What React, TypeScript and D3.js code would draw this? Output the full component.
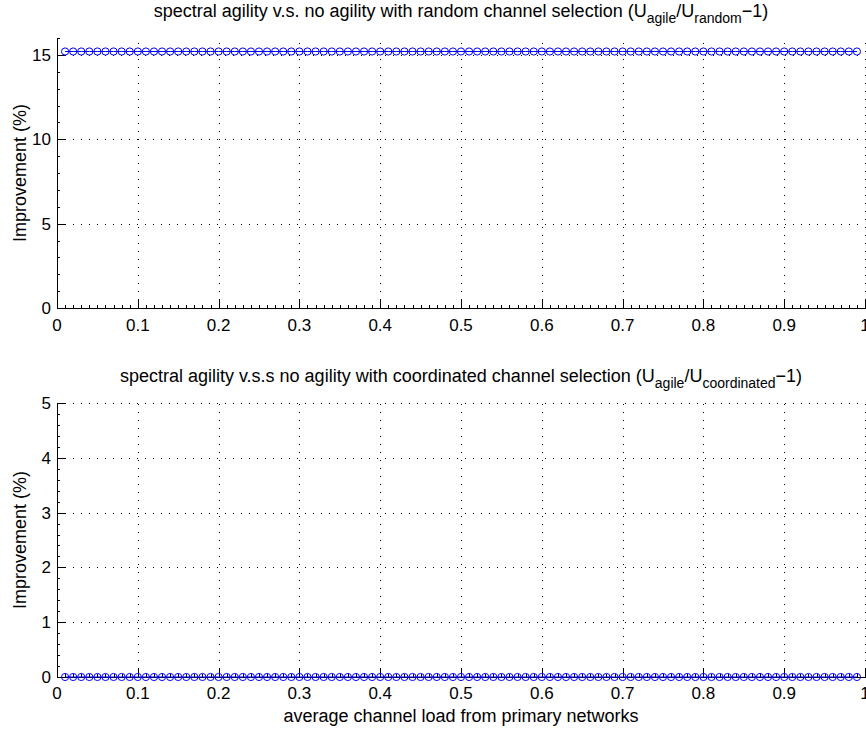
import React from "react";
import * as d3 from "d3";

// channel load sample points (x)
const loads = [
  0.01, 0.02, 0.03, 0.04, 0.05, 0.06, 0.07, 0.08, 0.09, 0.1,
  0.11, 0.12, 0.13, 0.14, 0.15, 0.16, 0.17, 0.18, 0.19, 0.2,
  0.21, 0.22, 0.23, 0.24, 0.25, 0.26, 0.27, 0.28, 0.29, 0.3,
  0.31, 0.32, 0.33, 0.34, 0.35, 0.36, 0.37, 0.38, 0.39, 0.4,
  0.41, 0.42, 0.43, 0.44, 0.45, 0.46, 0.47, 0.48, 0.49, 0.5,
  0.51, 0.52, 0.53, 0.54, 0.55, 0.56, 0.57, 0.58, 0.59, 0.6,
  0.61, 0.62, 0.63, 0.64, 0.65, 0.66, 0.67, 0.68, 0.69, 0.7,
  0.71, 0.72, 0.73, 0.74, 0.75, 0.76, 0.77, 0.78, 0.79, 0.8,
  0.81, 0.82, 0.83, 0.84, 0.85, 0.86, 0.87, 0.88, 0.89, 0.9,
  0.91, 0.92, 0.93, 0.94, 0.95, 0.96, 0.97, 0.98, 0.99,
];

// improvement vs random channel selection (%)
const randomImprovement = [
  15.2, 15.2, 15.2, 15.2, 15.2, 15.2, 15.2, 15.2, 15.2, 15.2,
  15.2, 15.2, 15.2, 15.2, 15.2, 15.2, 15.2, 15.2, 15.2, 15.2,
  15.2, 15.2, 15.2, 15.2, 15.2, 15.2, 15.2, 15.2, 15.2, 15.2,
  15.2, 15.2, 15.2, 15.2, 15.2, 15.2, 15.2, 15.2, 15.2, 15.2,
  15.2, 15.2, 15.2, 15.2, 15.2, 15.2, 15.2, 15.2, 15.2, 15.2,
  15.2, 15.2, 15.2, 15.2, 15.2, 15.2, 15.2, 15.2, 15.2, 15.2,
  15.2, 15.2, 15.2, 15.2, 15.2, 15.2, 15.2, 15.2, 15.2, 15.2,
  15.2, 15.2, 15.2, 15.2, 15.2, 15.2, 15.2, 15.2, 15.2, 15.2,
  15.2, 15.2, 15.2, 15.2, 15.2, 15.2, 15.2, 15.2, 15.2, 15.2,
  15.2, 15.2, 15.2, 15.2, 15.2, 15.2, 15.2, 15.2, 15.2,
];

// improvement vs coordinated channel selection (%)
const coordinatedImprovement = [
  0, 0, 0, 0, 0, 0, 0, 0, 0, 0,
  0, 0, 0, 0, 0, 0, 0, 0, 0, 0,
  0, 0, 0, 0, 0, 0, 0, 0, 0, 0,
  0, 0, 0, 0, 0, 0, 0, 0, 0, 0,
  0, 0, 0, 0, 0, 0, 0, 0, 0, 0,
  0, 0, 0, 0, 0, 0, 0, 0, 0, 0,
  0, 0, 0, 0, 0, 0, 0, 0, 0, 0,
  0, 0, 0, 0, 0, 0, 0, 0, 0, 0,
  0, 0, 0, 0, 0, 0, 0, 0, 0, 0,
  0, 0, 0, 0, 0, 0, 0, 0, 0,
];

const xTicks = [0, 0.1, 0.2, 0.3, 0.4, 0.5, 0.6, 0.7, 0.8, 0.9, 1];
const xTickLabels = ["0", "0.1", "0.2", "0.3", "0.4", "0.5", "0.6", "0.7", "0.8", "0.9", "1"];
const topYTicks = [0, 5, 10, 15];
const bottomYTicks = [0, 1, 2, 3, 4, 5];

const FONT = "'Liberation Sans', Arial, Helvetica, sans-serif";
const W = 866;
const H = 729;
const X0 = 57;
const X1 = 865;

type PanelProps = {
  yTop: number;
  yBottom: number;
  yMax: number;
  yTicks: number[];
  yMinorStep: number;
  values: number[];
  titleY: number;
  titleMain: string;
  sub2: string;
  tickLabelY: number;
};

function Panel(p: PanelProps) {
  const x = d3.scaleLinear().domain([0, 1]).range([X0, X1]);
  const y = d3.scaleLinear().domain([0, p.yMax]).range([p.yBottom, p.yTop]);
  const line = d3
    .line<number>()
    .x((_, i) => x(loads[i]))
    .y((v) => y(v));
  const xMinor = d3.range(0, 1.0001, 0.01).filter((v) => Math.abs(v * 10 - Math.round(v * 10)) > 1e-6);
  const yMinor = d3.range(0, p.yMax + 1e-6, p.yMinorStep).filter((v) => !p.yTicks.some((t) => Math.abs(t - v) < 1e-6));
  const c = (v: number) => Math.round(v) + 0.5;
  const midY = (p.yTop + p.yBottom) / 2;
  return (
    <g>
      {/* grid */}
      {xTicks.slice(1).map((t) => (
        <line key={"gx" + t} x1={c(x(t))} x2={c(x(t))} y1={p.yBottom} y2={p.yTop}
          stroke="#000" strokeWidth={1} strokeDasharray="1,7" shapeRendering="crispEdges" />
      ))}
      {p.yTicks.slice(1).map((t) => (
        <line key={"gy" + t} x1={X0} x2={X1} y1={c(y(t))} y2={c(y(t))}
          stroke="#000" strokeWidth={1} strokeDasharray="1,7" shapeRendering="crispEdges" />
      ))}
      {/* minor ticks */}
      {xMinor.map((t) => (
        <line key={"mx" + t} x1={c(x(t))} x2={c(x(t))} y1={p.yBottom} y2={p.yBottom - 3}
          stroke="#000" strokeWidth={1} shapeRendering="crispEdges" />
      ))}
      {yMinor.map((t) => (
        <line key={"my" + t} x1={X0} x2={X0 + 3} y1={c(y(t))} y2={c(y(t))}
          stroke="#000" strokeWidth={1} shapeRendering="crispEdges" />
      ))}
      {/* major ticks */}
      {xTicks.map((t) => (
        <line key={"tx" + t} x1={c(x(t))} x2={c(x(t))} y1={p.yBottom} y2={p.yBottom - 8}
          stroke="#000" strokeWidth={1} shapeRendering="crispEdges" />
      ))}
      {p.yTicks.map((t) => (
        <line key={"ty" + t} x1={X0} x2={X0 + 8} y1={c(y(t))} y2={c(y(t))}
          stroke="#000" strokeWidth={1} shapeRendering="crispEdges" />
      ))}
      {/* axes */}
      <line x1={c(X0)} x2={c(X0)} y1={p.yTop} y2={c(p.yBottom)} stroke="#000" strokeWidth={1} shapeRendering="crispEdges" />
      <line x1={X0} x2={X1 + 1} y1={c(p.yBottom)} y2={c(p.yBottom)} stroke="#000" strokeWidth={1} shapeRendering="crispEdges" />
      {/* tick labels */}
      {xTicks.map((t, i) => (
        <text key={"lx" + t} x={x(t)} y={p.tickLabelY} textAnchor="middle" fontSize={17} fontFamily={FONT} fill="#000">
          {xTickLabels[i]}
        </text>
      ))}
      {p.yTicks.map((t) => (
        <text key={"ly" + t} x={X0 - 6} y={y(t) + 6} textAnchor="end" fontSize={17} fontFamily={FONT} fill="#000">
          {String(t)}
        </text>
      ))}
      {/* y label */}
      <text transform={`translate(26,${midY}) rotate(-90)`} textAnchor="middle" fontSize={18} fontFamily={FONT} fill="#000">
        Improvement (%)
      </text>
      {/* title */}
      <text x={(X0 + X1) / 2} y={p.titleY} textAnchor="middle" fontSize={18} fontFamily={FONT} fill="#000">
        {p.titleMain}
        <tspan dy={6} fontSize={14}>agile</tspan>
        <tspan dy={-6}>/U</tspan>
        <tspan dy={6} fontSize={14}>{p.sub2}</tspan>
        <tspan dy={-6}>{"\u22121)"}</tspan>
      </text>
      {/* series */}
      <path d={line(p.values) || ""} fill="none" stroke="#0000ff" strokeWidth={1} />
      {p.values.map((v, i) => (
        <circle key={"pt" + i} cx={x(loads[i])} cy={y(v)} r={3.6} fill="none" stroke="#0000ff" strokeWidth={1} />
      ))}
    </g>
  );
}

export default function App() {
  return (
    <svg width={W} height={H} style={{ position: "absolute", left: 0, top: 0, background: "#fff" }}>
      <rect width={W} height={H} fill="#fff" />
      <Panel yTop={38} yBottom={308} yMax={16} yTicks={topYTicks} yMinorStep={1}
        values={randomImprovement} titleY={17}
        titleMain="spectral agility v.s. no agility with random channel selection (U"
        sub2="random" tickLabelY={331} />
      <Panel yTop={403} yBottom={677} yMax={5} yTicks={bottomYTicks} yMinorStep={0.2}
        values={coordinatedImprovement} titleY={382}
        titleMain="spectral agility v.s.s no agility with coordinated channel selection (U"
        sub2="coordinated" tickLabelY={699} />
      <text x={(X0 + X1) / 2} y={722} textAnchor="middle" fontSize={18} fontFamily={FONT} fill="#000">
        average channel load from primary networks
      </text>
    </svg>
  );
}
